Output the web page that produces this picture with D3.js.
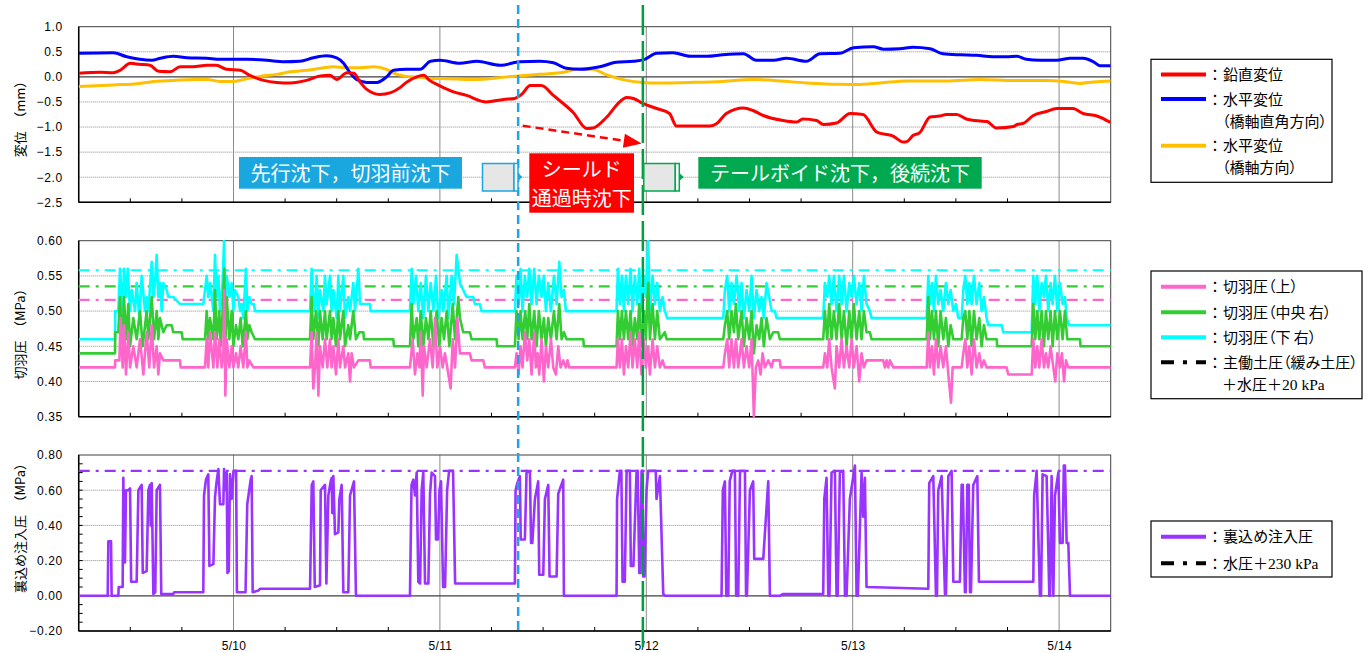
<!DOCTYPE html>
<html>
<head>
<meta charset="utf-8">
<script src="https://cdn.jsdelivr.net/npm/d3@7"></script>
<style>
  body { margin: 0; background: #fff; }
  text { font-family: "Noto Sans CJK JP", sans-serif; }
  .tick-label text { font-family: "Liberation Sans", Arial, sans-serif; font-size: 12px; letter-spacing: 0.6px; fill: #000; }
  .legend-text { font-feature-settings: "palt"; }
</style>
</head>
<body>
<svg id="chart" width="1368" height="653"></svg>
<script>
// ---- data: time is hours after 5/9 00:00 ----
const dayTicks = [24, 48, 72, 96, 120];
const dayLabels = ['5/10', '5/11', '5/12', '5/13', '5/14'];
const dispTicks = [1.0, 0.5, 0, -0.5, -1.0, -1.5, -2.0, -2.5];
const faceTicks = [0.60, 0.55, 0.50, 0.45, 0.40, 0.35];
const groutTicks = [0.80, 0.60, 0.40, 0.20, 0.00, -0.20];

// 鉛直変位 (mm)
const vertDisp = [[6,0.07],[8.5,0.09],[10,0.08],[10.8,0.13],[12,0.27],[13.1,0.25],[14.3,0.23],[15.3,0.11],[16.6,0.10],[17.8,0.20],[19.3,0.20],[20.9,0.23],[22,0.23],[23.2,0.15],[24.8,0.13],[25.9,0.03],[27.5,-0.07],[29,-0.11],[30.6,-0.12],[32.5,-0.07],[34.1,0.02],[35.2,0.03],[36,-0.05],[37.2,0.08],[38,0.07],[38.7,-0.10],[39.5,-0.25],[41,-0.35],[42.2,-0.32],[43.4,-0.21],[44.1,-0.11],[45.3,0.0],[46.1,0.03],[46.8,-0.07],[48,-0.18],[49.6,-0.30],[51.1,-0.37],[53.4,-0.50],[55.4,-0.45],[56.7,-0.43],[57.5,-0.35],[58.5,-0.17],[59.8,-0.17],[61.2,-0.37],[63.5,-0.71],[65.1,-1.03],[65.8,-1.02],[67.4,-0.80],[68.9,-0.50],[69.7,-0.41],[70.5,-0.43],[71.6,-0.53],[73.2,-0.63],[74.7,-0.73],[75.5,-0.98],[79.4,-0.98],[80.2,-0.93],[81.3,-0.73],[83.3,-0.62],[84.4,-0.67],[85.6,-0.77],[87.9,-0.87],[89.5,-0.90],[90.2,-0.84],[91.8,-0.87],[92.6,-0.95],[94.1,-0.92],[95.7,-0.73],[97.2,-0.75],[98.8,-1.10],[100.7,-1.18],[101.9,-1.30],[102.3,-1.29],[103,-1.17],[103.8,-1.11],[105,-0.80],[106.1,-0.78],[106.9,-0.75],[108.1,-0.75],[109.2,-0.84],[110.8,-0.88],[111.6,-0.89],[112.7,-1.02],[114.7,-0.99],[115.1,-0.95],[115.8,-0.93],[117,-0.77],[118.5,-0.69],[119.7,-0.63],[121.6,-0.63],[122.8,-0.73],[124.4,-0.78],[126,-0.91]];
// 水平変位 (橋軸直角方向)
const horizPerp = [[6,0.47],[10,0.48],[11.6,0.40],[13.1,0.35],[14.5,0.33],[15.5,0.37],[17,0.41],[18.6,0.38],[20.9,0.37],[22.4,0.35],[25.5,0.35],[27.9,0.33],[29.8,0.30],[31.7,0.31],[33.3,0.38],[34.8,0.42],[36,0.38],[36.8,0.27],[37.6,0.07],[38.3,-0.05],[39.5,-0.11],[40.7,-0.11],[41.8,0.0],[42.6,0.13],[44.1,0.15],[45.7,0.15],[46.9,0.31],[48,0.33],[50.3,0.27],[52.3,0.31],[55,0.23],[57.3,0.30],[59.6,0.31],[61.2,0.28],[62.7,0.17],[64.3,0.15],[66.6,0.20],[68.5,0.29],[70.5,0.31],[71.8,0.35],[73.2,0.47],[75.1,0.48],[77.1,0.41],[79,0.41],[80.9,0.44],[83.3,0.46],[84.8,0.33],[86.8,0.33],[88.3,0.37],[90.6,0.31],[92.2,0.46],[94.5,0.47],[96.1,0.58],[98.4,0.60],[99.6,0.55],[101.5,0.56],[103,0.59],[105,0.56],[106.5,0.46],[108.5,0.44],[110.4,0.43],[112.3,0.40],[113.9,0.40],[115.1,0.41],[116.2,0.35],[117.8,0.33],[119.7,0.33],[121.3,0.37],[122.8,0.37],[124,0.30],[124.8,0.22],[126,0.22]];
// 水平変位 (橋軸方向)
const horizAxial = [[6,-0.19],[10,-0.16],[13.1,-0.13],[14.7,-0.09],[17,-0.07],[19.3,-0.05],[20.9,-0.05],[22.4,-0.09],[24,-0.09],[25.5,-0.04],[27.1,0.01],[29,0.05],[30.6,0.10],[32.5,0.13],[34.1,0.17],[35.6,0.20],[37.2,0.18],[38.7,0.18],[40.3,0.20],[41.8,0.15],[43,0.05],[44.1,0.01],[45.7,-0.01],[47.2,-0.04],[48,-0.03],[51.9,-0.05],[55.8,0.0],[59.6,0.05],[62,0.08],[64.3,0.16],[65.8,0.15],[67.4,0.04],[69.7,-0.07],[71.6,-0.11],[73.2,-0.12],[77.1,-0.11],[80.9,-0.09],[84.4,-0.05],[86.8,-0.07],[90.6,-0.12],[96.4,-0.15],[99.2,-0.12],[102.3,-0.08],[106.9,-0.08],[110.8,-0.05],[114.7,-0.07],[118.6,-0.07],[120.5,-0.09],[122.4,-0.13],[124,-0.10],[126,-0.08]];

// 切羽圧 (MPa)
const faceTop = [[6,0.42],[10.22,0.42],[10.25,0.43],[10.73,0.43],[10.88,0.49],[11.11,0.42],[11.27,0.48],[11.5,0.41],[11.77,0.47],[11.97,0.42],[12.35,0.45],[12.74,0.42],[13.13,0.46],[13.52,0.41],[13.9,0.47],[14.21,0.42],[14.49,0.48],[14.76,0.42],[15.07,0.45],[15.26,0.41],[15.45,0.44],[15.84,0.43],[16.23,0.43],[17.78,0.43],[17.85,0.42],[20.49,0.42],
  [20.69,0.42],[20.88,0.46],[21.07,0.42],[21.27,0.47],[21.66,0.42],[21.85,0.47],[22.12,0.42],[22.35,0.46],[22.62,0.42],[22.82,0.44],[22.93,0.53],[23.05,0.38],[23.21,0.46],[23.52,0.42],[23.79,0.45],[23.98,0.42],[24.29,0.44],[24.56,0.42],[24.83,0.45],[25.14,0.42],[25.45,0.47],[25.61,0.42],[25.84,0.43],[26.31,0.42],[32.9,0.42],
  [33.09,0.47],[33.28,0.39],[33.48,0.42],[33.67,0.47],[33.87,0.38],[34.06,0.45],[34.37,0.42],[34.64,0.46],[34.91,0.42],[35.22,0.46],[35.41,0.42],[35.61,0.45],[35.92,0.41],[36.19,0.46],[36.38,0.42],[36.77,0.45],[36.97,0.42],[37.35,0.44],[37.55,0.40],[37.74,0.44],[38.01,0.42],[38.52,0.43],[39.87,0.43],[39.95,0.42],[44.52,0.42],
  [44.83,0.46],[45.1,0.41],[45.38,0.44],[45.61,0.42],[45.77,0.47],[46.0,0.38],[46.15,0.45],[46.46,0.42],[46.85,0.46],[47.16,0.42],[47.43,0.49],[47.7,0.42],[48.01,0.45],[48.32,0.42],[48.59,0.44],[48.86,0.42],[49.25,0.39],[49.49,0.46],[49.76,0.42],[50.03,0.49],[50.33,0.44],[51.49,0.44],[51.68,0.43],[53.04,0.43],[53.23,0.42],[56.72,0.42],
  [56.91,0.44],[57.15,0.41],[57.38,0.45],[57.61,0.42],[57.88,0.47],[58.16,0.43],[58.39,0.46],[58.66,0.41],[58.97,0.47],[59.16,0.42],[59.36,0.44],[59.55,0.41],[59.82,0.46],[60.09,0.40],[60.33,0.45],[60.6,0.42],[60.91,0.46],[61.18,0.42],[61.49,0.41],[61.76,0.45],[62.03,0.42],[62.34,0.43],[62.65,0.42],[62.84,0.43],[63.04,0.42],[68.54,0.42],
  [68.7,0.46],[68.93,0.42],[69.16,0.46],[69.4,0.41],[69.63,0.45],[69.9,0.42],[70.17,0.47],[70.4,0.42],[70.67,0.46],[70.95,0.42],[71.18,0.47],[71.45,0.41],[71.72,0.46],[71.95,0.42],[72.22,0.45],[72.42,0.41],[72.73,0.46],[73.0,0.42],[73.27,0.45],[73.58,0.42],[73.89,0.43],[74.16,0.42],[80.95,0.42],
  [81.14,0.44],[81.41,0.46],[81.64,0.42],[81.91,0.46],[82.19,0.42],[82.42,0.46],[82.69,0.42],[83.08,0.46],[83.35,0.42],[83.66,0.45],[83.97,0.42],[84.24,0.46],[84.51,0.35],[84.74,0.42],[85.02,0.43],[85.29,0.41],[85.52,0.44],[85.79,0.42],[86.18,0.43],[86.57,0.42],[86.76,0.43],[87.53,0.43],[87.61,0.42],[92.57,0.42],
  [92.77,0.44],[93.04,0.42],[93.27,0.46],[93.54,0.42],[93.93,0.39],[94.12,0.45],[94.43,0.42],[94.71,0.46],[94.98,0.42],[95.29,0.45],[95.6,0.42],[95.87,0.46],[96.14,0.42],[96.45,0.45],[96.76,0.40],[97.03,0.44],[97.3,0.42],[97.61,0.43],[99.55,0.43],[99.74,0.42],[99.94,0.43],[100.13,0.42],[100.33,0.43],[100.71,0.42],[104.6,0.42],
  [104.79,0.47],[104.98,0.42],[105.22,0.45],[105.45,0.41],[105.68,0.46],[105.95,0.42],[106.22,0.45],[106.53,0.42],[106.84,0.45],[107.12,0.41],[107.43,0.37],[107.62,0.42],[108.67,0.42],[108.86,0.44],[109.09,0.46],[109.33,0.42],[109.56,0.45],[109.83,0.41],[110.1,0.46],[110.41,0.42],[110.72,0.44],[110.99,0.42],[111.26,0.43],[111.57,0.42],[113.9,0.42],[114.09,0.41],[116.81,0.41],
  [117.0,0.46],[117.23,0.42],[117.46,0.45],[117.7,0.42],[117.97,0.46],[118.24,0.42],[118.47,0.44],[118.74,0.42],[119.01,0.45],[119.33,0.42],[119.56,0.40],[119.79,0.44],[120.1,0.42],[120.33,0.44],[120.57,0.40],[120.8,0.43],[121.07,0.42],[126,0.42]];
const faceMid = [[6,0.44],[10.22,0.44],[10.25,0.47],[10.61,0.47],[10.8,0.52],[11.04,0.45],[11.27,0.52],[11.5,0.46],[11.77,0.51],[11.97,0.45],[12.35,0.49],[12.74,0.46],[13.13,0.50],[13.44,0.45],[13.9,0.50],[14.1,0.46],[14.49,0.52],[14.76,0.46],[15.07,0.50],[15.26,0.46],[15.45,0.49],[15.84,0.47],[16.23,0.48],[16.81,0.48],[17.0,0.47],[17.97,0.47],[18.09,0.46],[20.49,0.46],
  [20.69,0.46],[20.88,0.50],[21.07,0.46],[21.27,0.49],[21.66,0.46],[21.85,0.53],[22.04,0.46],[22.35,0.50],[22.51,0.45],[22.74,0.50],[22.93,0.56],[23.05,0.45],[23.21,0.52],[23.52,0.46],[23.79,0.50],[23.98,0.45],[24.29,0.48],[24.56,0.46],[24.83,0.49],[25.07,0.45],[25.45,0.50],[25.61,0.46],[25.84,0.48],[26.11,0.47],[26.5,0.46],[32.9,0.46],
  [33.09,0.52],[33.28,0.46],[33.59,0.50],[33.87,0.45],[34.06,0.50],[34.37,0.46],[34.64,0.50],[34.83,0.46],[35.22,0.50],[35.41,0.46],[35.61,0.49],[35.92,0.45],[36.19,0.50],[36.38,0.46],[36.77,0.50],[36.97,0.45],[37.35,0.48],[37.55,0.46],[37.93,0.50],[38.24,0.46],[38.63,0.47],[39.1,0.47],[39.17,0.46],[42.58,0.46],[42.66,0.45],[44.52,0.45],
  [44.72,0.51],[44.91,0.46],[45.3,0.49],[45.49,0.45],[45.77,0.50],[46.07,0.45],[46.38,0.49],[46.66,0.46],[46.93,0.50],[47.24,0.45],[47.62,0.50],[47.93,0.45],[48.2,0.49],[48.48,0.46],[48.79,0.50],[49.1,0.45],[49.49,0.51],[49.76,0.46],[50.14,0.52],[50.33,0.49],[50.71,0.47],[51.49,0.47],[51.68,0.46],[54.59,0.46],[54.67,0.45],[56.72,0.45],
  [56.91,0.50],[57.15,0.46],[57.38,0.50],[57.61,0.46],[57.92,0.50],[58.16,0.46],[58.39,0.51],[58.66,0.46],[58.97,0.50],[59.24,0.45],[59.51,0.50],[59.82,0.46],[60.09,0.49],[60.33,0.45],[60.6,0.49],[60.91,0.46],[61.26,0.50],[61.57,0.46],[61.88,0.51],[62.15,0.46],[62.42,0.47],[62.73,0.46],[64.67,0.46],[64.74,0.45],[68.54,0.45],
  [68.7,0.50],[68.93,0.46],[69.16,0.50],[69.4,0.46],[69.63,0.50],[69.9,0.46],[70.17,0.50],[70.4,0.45],[70.67,0.49],[70.95,0.46],[71.18,0.51],[71.45,0.45],[71.72,0.50],[71.95,0.46],[72.22,0.54],[72.42,0.46],[72.73,0.51],[73.0,0.46],[73.27,0.50],[73.58,0.46],[74.16,0.47],[74.36,0.46],[80.95,0.46],
  [81.14,0.48],[81.41,0.50],[81.64,0.46],[81.91,0.50],[82.19,0.47],[82.42,0.51],[82.69,0.46],[83.08,0.50],[83.35,0.45],[83.66,0.49],[83.97,0.46],[84.24,0.50],[84.51,0.44],[84.82,0.48],[85.13,0.46],[85.4,0.49],[85.67,0.45],[85.98,0.49],[86.37,0.46],[86.76,0.47],[87.34,0.47],[87.53,0.46],[92.57,0.46],
  [92.77,0.50],[93.04,0.46],[93.27,0.51],[93.54,0.46],[93.81,0.50],[94.12,0.46],[94.43,0.51],[94.71,0.46],[94.98,0.50],[95.29,0.45],[95.6,0.50],[95.87,0.46],[96.14,0.51],[96.45,0.46],[96.76,0.50],[97.03,0.46],[97.3,0.50],[97.61,0.47],[98.0,0.47],[98.19,0.46],[104.6,0.46],
  [104.79,0.52],[104.98,0.46],[105.22,0.50],[105.45,0.46],[105.68,0.50],[105.95,0.45],[106.22,0.50],[106.53,0.46],[106.84,0.49],[107.12,0.45],[107.39,0.48],[107.7,0.46],[108.67,0.46],[108.86,0.49],[109.09,0.50],[109.33,0.46],[109.56,0.50],[109.83,0.45],[110.1,0.50],[110.41,0.46],[110.72,0.49],[110.99,0.45],[111.26,0.48],[111.57,0.46],[112.74,0.46],[112.81,0.45],[116.81,0.45],
  [117.0,0.51],[117.23,0.46],[117.46,0.50],[117.7,0.46],[117.97,0.50],[118.24,0.45],[118.47,0.50],[118.74,0.46],[119.01,0.50],[119.25,0.45],[119.52,0.50],[119.79,0.46],[120.1,0.50],[120.41,0.46],[120.68,0.50],[120.95,0.46],[122.43,0.46],[122.5,0.45],[126,0.45]];
const faceLow = [[6,0.46],[10.22,0.46],[10.25,0.50],[10.61,0.50],[10.8,0.56],[11.11,0.50],[11.27,0.56],[11.5,0.52],[11.7,0.56],[11.97,0.50],[12.16,0.53],[12.55,0.50],[12.74,0.54],[13.05,0.49],[13.32,0.55],[13.71,0.50],[13.9,0.52],[14.1,0.50],[14.49,0.57],[14.68,0.52],[14.87,0.54],[15.07,0.58],[15.26,0.52],[15.45,0.54],[15.65,0.50],[15.84,0.54],[16.23,0.53],[16.42,0.52],[17.0,0.52],[17.78,0.51],[20.49,0.51],
  [20.69,0.53],[20.88,0.55],[21.07,0.52],[21.27,0.54],[21.66,0.50],[21.85,0.58],[22.04,0.52],[22.24,0.55],[22.43,0.50],[22.74,0.54],[22.9,0.60],[23.05,0.50],[23.21,0.55],[23.52,0.52],[23.79,0.54],[23.98,0.50],[24.18,0.53],[24.56,0.52],[24.76,0.50],[24.95,0.51],[25.14,0.49],[25.45,0.56],[25.61,0.50],[25.84,0.52],[26.11,0.51],[26.38,0.51],[26.5,0.50],[32.9,0.50],
  [33.09,0.56],[33.28,0.52],[33.48,0.50],[33.67,0.55],[33.87,0.49],[34.06,0.53],[34.45,0.50],[34.64,0.55],[34.83,0.51],[35.22,0.55],[35.41,0.50],[35.61,0.53],[36.0,0.49],[36.19,0.55],[36.38,0.50],[36.77,0.55],[36.97,0.49],[37.35,0.52],[37.55,0.50],[37.93,0.54],[38.13,0.50],[38.52,0.56],[38.71,0.51],[39.87,0.51],[39.95,0.50],[44.52,0.50],
  [44.72,0.56],[44.91,0.51],[45.22,0.55],[45.49,0.50],[45.77,0.54],[46.07,0.49],[46.38,0.55],[46.66,0.50],[46.93,0.54],[47.24,0.50],[47.55,0.55],[47.82,0.49],[48.2,0.53],[48.4,0.50],[48.79,0.55],[48.98,0.49],[49.37,0.55],[49.64,0.51],[49.95,0.58],[50.33,0.54],[50.71,0.53],[51.1,0.52],[51.88,0.52],[52.07,0.51],[52.65,0.51],[52.84,0.50],[56.72,0.50],
  [56.91,0.55],[57.15,0.51],[57.38,0.56],[57.61,0.50],[57.88,0.55],[58.16,0.52],[58.39,0.56],[58.66,0.51],[58.97,0.56],[59.24,0.51],[59.51,0.55],[59.82,0.52],[60.09,0.55],[60.33,0.50],[60.6,0.54],[60.91,0.50],[61.26,0.55],[61.57,0.51],[61.88,0.57],[62.15,0.52],[62.42,0.53],[62.65,0.50],[68.54,0.50],
  [68.7,0.56],[68.93,0.51],[69.16,0.55],[69.4,0.50],[69.63,0.55],[69.9,0.51],[70.17,0.56],[70.4,0.50],[70.67,0.55],[70.95,0.51],[71.18,0.56],[71.45,0.50],[71.72,0.55],[71.95,0.52],[72.22,0.60],[72.42,0.50],[72.73,0.55],[73.0,0.51],[73.27,0.54],[73.58,0.50],[73.89,0.52],[74.16,0.50],[74.43,0.49],[80.95,0.49],
  [81.14,0.53],[81.41,0.55],[81.64,0.50],[81.91,0.54],[82.19,0.51],[82.5,0.55],[82.81,0.50],[83.08,0.54],[83.35,0.49],[83.66,0.53],[83.97,0.50],[84.24,0.55],[84.51,0.49],[84.82,0.53],[85.13,0.50],[85.4,0.52],[85.67,0.49],[85.98,0.54],[86.29,0.52],[86.57,0.50],[86.95,0.50],[87.15,0.49],[92.57,0.49],
  [92.77,0.54],[93.04,0.52],[93.27,0.55],[93.54,0.51],[93.81,0.55],[94.12,0.50],[94.43,0.55],[94.71,0.51],[94.98,0.55],[95.29,0.50],[95.6,0.54],[95.87,0.52],[96.14,0.55],[96.45,0.51],[96.76,0.54],[97.03,0.50],[97.3,0.55],[97.61,0.51],[98.0,0.50],[98.19,0.49],[104.6,0.49],
  [104.79,0.55],[104.98,0.51],[105.22,0.54],[105.45,0.50],[105.68,0.55],[105.95,0.51],[106.22,0.53],[106.53,0.50],[106.84,0.54],[107.12,0.51],[107.39,0.53],[107.7,0.50],[108.01,0.51],[108.28,0.49],[108.67,0.49],[108.86,0.53],[109.09,0.55],[109.33,0.51],[109.56,0.54],[109.83,0.51],[110.1,0.55],[110.41,0.51],[110.72,0.54],[110.99,0.50],[111.26,0.52],[111.57,0.49],[111.77,0.48],[113.32,0.48],[113.51,0.47],[116.81,0.47],
  [117.0,0.55],[117.23,0.51],[117.46,0.55],[117.7,0.50],[117.97,0.54],[118.24,0.52],[118.47,0.55],[118.74,0.50],[119.01,0.54],[119.25,0.51],[119.52,0.55],[119.79,0.50],[120.1,0.54],[120.41,0.51],[120.68,0.52],[120.88,0.49],[121.19,0.48],[126,0.48]];
// 主働土圧(緩み土圧)+水圧+20kPa : 上, 中央右, 下右
const faceRefs = [0.516, 0.535, 0.558];

// 裏込め注入圧 (MPa)
const grout = [[6,0],[9.37,0],[9.45,0.31],[9.76,0.31],[9.83,0],[10.61,0],[10.65,0.05],[11.11,0.05],[11.19,0.67],[11.3,0.19],[11.38,0.19],[11.5,0.60],[11.77,0.60],[11.97,0.61],[12.1,0.08],[12.74,0.08],[12.94,0.60],[13.32,0.63],[13.45,0.13],[13.9,0.14],[14.1,0.60],[14.29,0.63],[14.37,0.40],[14.49,0.64],[14.68,0.01],[14.9,0.02],[15.07,0.60],[15.45,0.63],[15.6,0.01],[17.0,0.01],[17.1,0.02],[20.49,0.02],
  [20.57,0.57],[20.8,0.66],[21.07,0.69],[21.2,0.17],[21.66,0.18],[21.85,0.56],[22.04,0.65],[22.24,0.72],[22.43,0.52],[22.82,0.52],[22.9,0.72],[23.01,0.60],[23.21,0.70],[23.3,0.13],[23.45,0.14],[23.59,0.69],[23.79,0.55],[24.0,0.71],[24.3,0.71],[24.4,0.02],[25.4,0.02],[25.6,0.52],[26.0,0.66],[26.11,0.68],[26.23,0.02],[26.89,0.03],[27.08,0.04],[32.9,0.04],
  [33.1,0.63],[33.28,0.65],[33.45,0.05],[34.06,0.06],[34.14,0.60],[34.64,0.63],[34.8,0.07],[35.03,0.57],[35.3,0.65],[35.42,0.67],[35.49,0.47],[35.61,0.68],[35.8,0.35],[36.19,0.36],[36.31,0.55],[36.58,0.63],[36.77,0.02],[37.35,0.02],[37.55,0.57],[38.01,0.65],[38.24,0.0],[44.52,0.0],
  [44.7,0.63],[44.91,0.66],[45.1,0.57],[45.3,0.70],[45.49,0.08],[45.7,0.07],[45.88,0.60],[46.07,0.70],[46.27,0.07],[46.66,0.07],[46.85,0.58],[47.04,0.70],[47.43,0.68],[47.55,0.32],[47.78,0.32],[47.95,0.60],[48.13,0.65],[48.37,0.05],[48.6,0.05],[48.84,0.60],[49.07,0.71],[49.53,0.71],[49.77,0.07],[56.72,0.07],
  [56.8,0.60],[57.0,0.64],[57.3,0.68],[57.4,0.32],[57.88,0.32],[58.08,0.71],[58.47,0.70],[58.6,0.30],[58.75,0.30],[59.05,0.55],[59.43,0.65],[59.55,0.12],[60.02,0.12],[60.21,0.55],[60.6,0.63],[60.75,0.11],[61.57,0.11],[61.76,0.58],[62.34,0.66],[62.42,0.0],[68.54,0.0],
  [68.6,0.55],[68.93,0.71],[69.1,0.71],[69.24,0.08],[69.5,0.08],[69.71,0.71],[70.09,0.71],[70.2,0.17],[70.5,0.17],[70.87,0.71],[71.0,0.71],[71.18,0.13],[71.3,0.13],[71.45,0.71],[71.55,0.71],[71.64,0.11],[71.8,0.11],[72.03,0.60],[72.22,0.71],[73.1,0.71],[73.19,0.55],[73.58,0.68],[73.97,0.01],[74.2,0.0],[80.75,0.0],
  [80.9,0.60],[81.14,0.65],[81.3,0.0],[81.53,0.0],[81.7,0.65],[82.0,0.71],[82.3,0.71],[82.45,0.0],[82.69,0.0],[82.9,0.71],[83.47,0.71],[83.6,0.0],[83.7,0.0],[84.05,0.60],[84.43,0.65],[84.55,0.21],[85.6,0.21],[86.18,0.65],[86.37,0.0],[87.5,0.0],[87.92,0.01],[92.57,0.01],
  [92.7,0.55],[92.96,0.67],[93.16,0.0],[93.3,0.0],[93.54,0.70],[93.93,0.71],[94.12,0.0],[94.25,0.0],[94.51,0.70],[94.9,0.71],[95.1,0.0],[95.29,0.0],[95.67,0.55],[96.26,0.74],[96.45,0.0],[96.6,0.0],[97.03,0.70],[97.22,0.45],[97.42,0.67],[97.61,0.05],[104.79,0.04],
  [104.9,0.64],[105.37,0.68],[105.68,0.0],[105.8,0.0],[105.95,0.60],[106.34,0.68],[106.73,0.01],[106.85,0.01],[107.12,0.68],[107.5,0.71],[107.7,0.08],[108.47,0.08],[108.67,0.63],[108.8,0.63],[109.05,0.02],[109.15,0.02],[109.33,0.63],[109.5,0.63],[109.64,0.02],[109.75,0.02],[110.02,0.63],[110.49,0.68],[110.68,0.08],[117.0,0.08],
  [117.1,0.57],[117.39,0.71],[117.77,0.0],[117.9,0.0],[118.08,0.69],[118.55,0.68],[118.86,0.0],[118.95,0.0],[119.13,0.68],[119.33,0.0],[119.52,0.57],[119.91,0.70],[120.1,0.30],[120.41,0.30],[120.55,0.74],[120.68,0.74],[120.88,0.30],[121.07,0.30],[121.27,0.0],[126,0.0]];
const groutRef = 0.71; // 水圧+230kPa

// event times: シールド到達 / テール通過
const shieldArrive = 57.1;
const tailPass = 71.6;

// ---- drawing ----
const svg = d3.select('#chart');
const base = new Date(2019, 4, 9).getTime();
const toDate = h => new Date(base + h * 3600000);

const left = 78.7, right = 1110.7;
const x = d3.scaleTime().domain([toDate(6), toDate(126)]).range([left, right]);

const panels = [
  { id: 'disp', top: 26.7, bottom: 202.3, domain: [-2.5, 1.0], ticks: dispTicks,
    fmt: d => d3.format('.1f')(d).replace('-', '−'), zeroLine: true, minorY: false,
    label: '変位　（mm）', labelY: 116 },
  { id: 'face', top: 240.7, bottom: 416.7, domain: [0.35, 0.60], ticks: faceTicks,
    fmt: d3.format('.2f'), zeroLine: false, minorY: false,
    label: '切羽圧　（MPa）', labelY: 331 },
  { id: 'grout', top: 455, bottom: 631, domain: [-0.2, 0.8], ticks: groutTicks,
    fmt: d => d3.format('.2f')(d).replace('-', '−'), zeroLine: true, minorY: true,
    label: '裏込め注入圧　（MPa）', labelY: 525 }
];

const defs = svg.append('defs');
const sixHours = d3.range(12, 126, 6);

panels.forEach(p => {
  const y = d3.scaleLinear().domain(p.domain).range([p.bottom, p.top]);
  p.y = y;
  const g = svg.append('g').attr('class', 'panel-' + p.id);

  defs.append('clipPath').attr('id', 'clip-' + p.id)
    .append('rect').attr('x', left).attr('y', p.top - 1)
    .attr('width', right - left).attr('height', p.bottom - p.top + 2);

  // horizontal grid (dotted)
  g.append('g').selectAll('line')
    .data(p.ticks.filter(t => t !== p.domain[0] && t !== p.domain[1] && !(p.zeroLine && t === 0)))
    .enter().append('line')
    .attr('x1', left).attr('x2', right)
    .attr('y1', d => y(d)).attr('y2', d => y(d))
    .attr('stroke', '#8c8c8c').attr('stroke-width', 1).attr('stroke-dasharray', '1,1');

  // vertical day lines
  g.append('g').selectAll('line').data(dayTicks).enter().append('line')
    .attr('x1', d => x(toDate(d))).attr('x2', d => x(toDate(d)))
    .attr('y1', p.top).attr('y2', p.bottom)
    .attr('stroke', '#8c8c8c').attr('stroke-width', 1);

  if (p.zeroLine) {
    g.append('line').attr('x1', left).attr('x2', right)
      .attr('y1', y(0)).attr('y2', y(0))
      .attr('stroke', '#404040').attr('stroke-width', 1.3);
  }

  // minor x ticks (6 h) pointing up from bottom axis
  g.append('g').selectAll('line').data(sixHours.filter(h => h % 24 !== 0)).enter().append('line')
    .attr('x1', d => x(toDate(d))).attr('x2', d => x(toDate(d)))
    .attr('y1', p.bottom).attr('y2', p.bottom - 4)
    .attr('stroke', '#000').attr('stroke-width', 1);

  if (p.minorY) {
    g.append('g').selectAll('line').data(d3.range(-0.15, 0.8, 0.05)).enter().append('line')
      .attr('x1', left).attr('x2', left + 4)
      .attr('y1', d => y(d)).attr('y2', d => y(d))
      .attr('stroke', '#000').attr('stroke-width', 1);
  }

  // frame
  g.append('rect').attr('x', left).attr('y', p.top)
    .attr('width', right - left).attr('height', p.bottom - p.top)
    .attr('fill', 'none').attr('stroke', '#404040').attr('stroke-width', 1);
  g.append('line').attr('x1', left).attr('x2', left).attr('y1', p.top).attr('y2', p.bottom)
    .attr('stroke', '#000').attr('stroke-width', 1.5);
  g.append('line').attr('x1', left).attr('x2', right).attr('y1', p.bottom).attr('y2', p.bottom)
    .attr('stroke', '#000').attr('stroke-width', 1.5);

  // y tick labels
  const ax = g.append('g').attr('class', 'tick-label')
    .attr('transform', `translate(${left - 16},0)`)
    .call(d3.axisLeft(y).tickValues(p.ticks).tickSize(0).tickPadding(0).tickFormat(p.fmt));
  ax.select('.domain').remove();

  // axis title
  g.append('text')
    .attr('transform', `translate(25,${p.labelY}) rotate(-90)`)
    .attr('text-anchor', 'middle')
    .attr('font-size', 13).attr('fill', '#000')
    .text(p.label);
});

// x labels under the bottom panel
const xl = svg.append('g').attr('class', 'tick-label')
  .attr('transform', `translate(0,${panels[2].bottom + 10})`)
  .call(d3.axisBottom(x).tickValues(dayTicks.map(toDate)).tickSize(0).tickPadding(0)
    .tickFormat((d, i) => dayLabels[i]));
xl.select('.domain').remove();
xl.selectAll('text').attr('font-size', 12).style('letter-spacing', '0.3px');

// series
const drawLine = (p, data, color, width, curve) => {
  const line = d3.line().x(d => x(toDate(d[0]))).y(d => p.y(d[1])).curve(curve || d3.curveLinear);
  svg.append('path').datum(data)
    .attr('clip-path', `url(#clip-${p.id})`)
    .attr('d', line).attr('fill', 'none')
    .attr('stroke', color).attr('stroke-width', width)
    .attr('stroke-linejoin', 'round');
};
const drawRef = (p, v, color) => {
  svg.append('line')
    .attr('x1', left).attr('x2', right).attr('y1', p.y(v)).attr('y2', p.y(v))
    .attr('stroke', color).attr('stroke-width', 2.2).attr('stroke-dasharray', '11,6,3,6');
};

const [pDisp, pFace, pGrout] = panels;
drawLine(pDisp, horizAxial, '#ffc000', 3, d3.curveMonotoneX);
drawLine(pDisp, horizPerp, '#0000ff', 3, d3.curveMonotoneX);
drawLine(pDisp, vertDisp, '#ff0000', 3, d3.curveMonotoneX);

drawRef(pFace, faceRefs[2], '#00ffff');
drawRef(pFace, faceRefs[1], '#33cc33');
drawRef(pFace, faceRefs[0], '#ff66cc');
drawLine(pFace, faceLow, '#00ffff', 2.6);
drawLine(pFace, faceMid, '#33cc33', 2.6);
drawLine(pFace, faceTop, '#ff66cc', 2.6);

drawRef(pGrout, groutRef, '#9933ff');
drawLine(pGrout, grout, '#9933ff', 2.6);

// event lines
svg.append('line').attr('x1', x(toDate(shieldArrive))).attr('x2', x(toDate(shieldArrive)))
  .attr('y1', 5).attr('y2', 632)
  .attr('stroke', '#1ea5e6').attr('stroke-width', 2.5).attr('stroke-dasharray', '9,5');
svg.append('line').attr('x1', x(toDate(tailPass))).attr('x2', x(toDate(tailPass)))
  .attr('y1', 5).attr('y2', 653)
  .attr('stroke', '#00a040').attr('stroke-width', 2.5).attr('stroke-dasharray', '30,6');

// red dashed arrow
const ax0 = [522.7, 125.7], ax1 = [641.7, 143.4];
const dx = ax1[0] - ax0[0], dy = ax1[1] - ax0[1], len = Math.hypot(dx, dy);
const ux = dx / len, uy = dy / len;
const hb = [ax1[0] - 18 * ux, ax1[1] - 18 * uy];
svg.append('line').attr('x1', ax0[0]).attr('y1', ax0[1]).attr('x2', hb[0]).attr('y2', hb[1])
  .attr('stroke', '#ff0000').attr('stroke-width', 2.5).attr('stroke-dasharray', '8,5');
svg.append('polygon')
  .attr('points', [ax1, [hb[0] - 7 * uy, hb[1] + 7 * ux], [hb[0] + 7 * uy, hb[1] - 7 * ux]].map(q => q.join(',')).join(' '))
  .attr('fill', '#ff0000');

// annotation boxes
const box = (x0, y0, w, h, fill, lines, size) => {
  svg.append('rect').attr('x', x0).attr('y', y0).attr('width', w).attr('height', h).attr('fill', fill);
  const lh = h / lines.length;
  lines.forEach((t, i) => {
    svg.append('text').attr('x', x0 + w / 2).attr('y', y0 + lh * i + lh / 2)
      .attr('text-anchor', 'middle').attr('dominant-baseline', 'central')
      .attr('font-size', size).attr('fill', '#fff').text(t);
  });
};
box(239, 157, 223, 31.7, '#1aa7e0', ['先行沈下，切羽前沈下'], 20);
box(529.3, 153.3, 104.7, 59.4, '#ff0000', ['シールド', '通過時沈下'], 20);
box(698.3, 157, 283.4, 31.7, '#00a94f', ['テールボイド沈下，後続沈下'], 20);

const tab = (x0, color) => {
  svg.append('rect').attr('x', x0).attr('y', 163.5).attr('width', 31.5).attr('height', 27.5)
    .attr('fill', '#e6e6e6').attr('stroke', color).attr('stroke-width', 1.5);
  svg.append('rect').attr('x', x0 + 31.5).attr('y', 163.5).attr('width', 4).attr('height', 27.5)
    .attr('fill', '#fff').attr('stroke', color).attr('stroke-width', 1.5);
  svg.append('polygon')
    .attr('points', `${x0 + 36},173.5 ${x0 + 40},177 ${x0 + 36},180.5`).attr('fill', color);
};
tab(482.5, '#1aa7e0');
tab(643.8, '#00a94f');

// legends
const legend = (x0, y0, w, h, items) => {
  const g = svg.append('g');
  g.append('rect').attr('x', x0).attr('y', y0).attr('width', w).attr('height', h)
    .attr('fill', '#fff').attr('stroke', '#000').attr('stroke-width', 1.2);
  items.forEach(it => {
    g.append('line').attr('x1', 1161).attr('x2', 1206).attr('y1', it.y).attr('y2', it.y)
      .attr('stroke', it.color).attr('stroke-width', 4)
      .attr('stroke-dasharray', it.dash ? '13,9,4,9' : null);
    g.append('text').attr('x', 1215).attr('y', it.y + 5.5).attr('text-anchor', 'middle')
      .attr('font-size', 15).attr('fill', '#000').text('：');
    it.lines.forEach((t, i) => {
      const tx = g.append('text').attr('class', 'legend-text')
        .attr('x', i === 0 ? 1223 : 1222).attr('y', it.y + 5.5 + i * 22)
        .attr('font-size', 15).attr('fill', '#000');
      const segs = Array.isArray(t) ? t : [{ text: t }];
      segs.forEach(seg => tx.append('tspan')
        .style('font-family', seg.serif ? '"Liberation Serif", serif' : null)
        .attr('font-size', seg.serif ? 15.5 : 15).text(seg.text));
    });
  });
};
legend(1151, 59.3, 181, 123, [
  { y: 74.5, color: '#ff0000', lines: ['鉛直変位'] },
  { y: 99, color: '#0000ff', lines: ['水平変位', '（橋軸直角方向）'] },
  { y: 145.7, color: '#ffc000', lines: ['水平変位', '（橋軸方向）'] }
]);
legend(1151, 271, 211, 127.7, [
  { y: 286.7, color: '#ff66cc', lines: ['切羽圧（上）'] },
  { y: 312.3, color: '#33cc33', lines: ['切羽圧（中央 右）'] },
  { y: 337.3, color: '#00ffff', lines: ['切羽圧（下 右）'] },
  { y: 362.3, color: '#000', dash: true, lines: ['主働土圧（緩み土圧）', [{ text: '＋水圧＋' }, { text: '20 kPa', serif: true }]] }
]);
legend(1151, 521, 181, 56, [
  { y: 536.7, color: '#9933ff', lines: ['裏込め注入圧'] },
  { y: 563.3, color: '#000', dash: true, lines: [[{ text: '水圧＋' }, { text: '230 kPa', serif: true }]] }
]);
</script>
</body>
</html>
